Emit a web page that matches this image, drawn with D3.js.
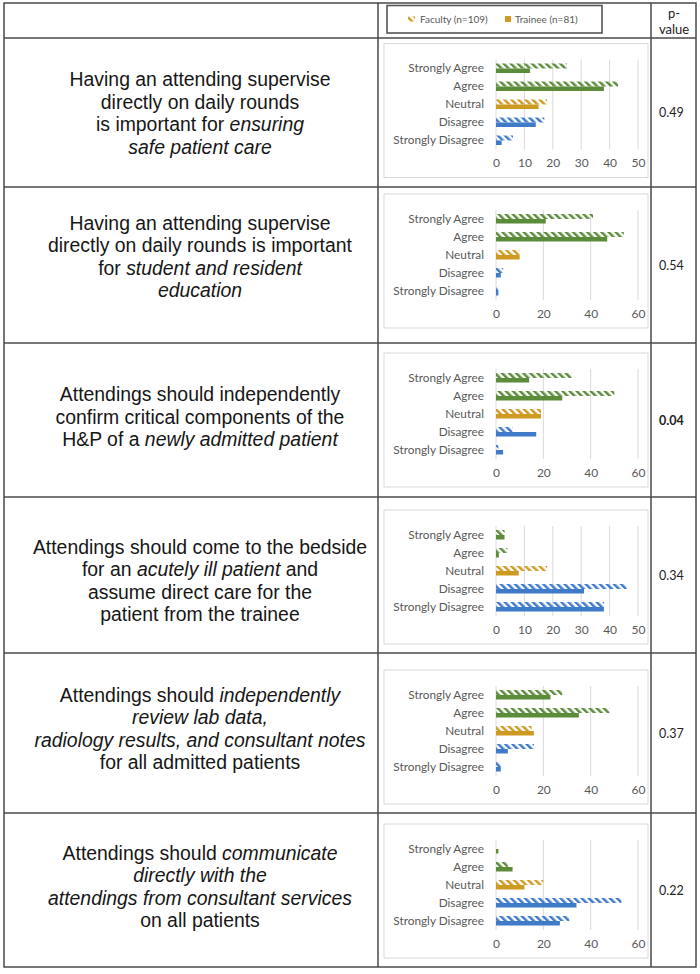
<!DOCTYPE html>
<html><head><meta charset="utf-8">
<script src="https://cdn.jsdelivr.net/npm/d3@7"></script>
<style>body{margin:0;background:#fff}</style>
</head><body>
<svg id="c" width="700" height="974"></svg>
<script>
// ---------- data ----------
const categories = ["Strongly Agree","Agree","Neutral","Disagree","Strongly Disagree"];
const seriesNames = ["Faculty (n=109)","Trainee (n=81)"];
const faculty = [
  [25,43,18,17,6],
  [41,54,10,3,1],
  [32,50,19,7,1],
  [3,4,18,46,38],
  [28,48,15,16,2],
  [0,5,20,53,31]
];
const trainee = [
  [12,38,15,14,2],
  [21,47,10,2,1],
  [14,28,19,17,3],
  [3,1,8,31,38],
  [23,35,16,5,2],
  [1,7,12,34,27]
];
const axisMax = [50,60,60,50,60,60];
const tickStep = [10,20,20,10,20,20];
const pValues = ["0.49","0.54","0.04","0.34","0.37","0.22"];
const significant = [false,false,true,false,false,false];
// statements: lines of [text, italic]
const statements = [
  [[["Having an attending supervise",0]],[["directly on daily rounds",0]],[["is important for ",0],["ensuring",1]],[["safe patient care",1]]],
  [[["Having an attending supervise",0]],[["directly on daily rounds is important",0]],[["for ",0],["student and resident",1]],[["education",1]]],
  [[["Attendings should independently",0]],[["confirm critical components of the",0]],[["H&P of a ",0],["newly admitted patient",1]]],
  [[["Attendings should come to the bedside",0]],[["for an ",0],["acutely ill patient",1],[" and",0]],[["assume direct care for the",0]],[["patient from the trainee",0]]],
  [[["Attendings should ",0],["independently",1]],[["review lab data,",1]],[["radiology results, and consultant notes",1]],[["for all admitted patients",0]]],
  [[["Attendings should ",0],["communicate",1]],[["directly with the",1]],[["attendings from consultant services",1]],[["on all patients",0]]]
];
const catColors = ["#5b8c3a","#5b8c3a","#cf9a22","#3f7bc8","#3f7bc8"];
const legendColor = "#cf9a22";

// ---------- layout ----------
const rowEdges = [38,187,343,497,653,813,967];
const textShift = [1,-8,-3,6,-4,-3];
const boxShift = [-2,-4,0,2,4,1];
const tableLeft = 4, col1 = 378, col2 = 651, tableRight = 696, tableTop = 3;
const svg = d3.select("#c");
const defs = svg.append("defs");
const uniqColors = Array.from(new Set(catColors.concat([legendColor])));
uniqColors.forEach((c,i)=>{
  const p = defs.append("pattern").attr("id","hatch"+i)
    .attr("patternUnits","userSpaceOnUse").attr("width",5).attr("height",5)
    .attr("patternTransform","rotate(-45)");
  p.append("rect").attr("x",0).attr("y",0).attr("width",2.5).attr("height",5).attr("fill",c);
});
const hatchId = c => "url(#hatch"+uniqColors.indexOf(c)+")";

const lineColor = "#4a4a4a";
// legend box
const leg = svg.append("g");
leg.append("rect").attr("x",387).attr("y",5.5).attr("width",215).attr("height",27.5)
  .attr("fill","#fff").attr("stroke","#555").attr("stroke-width",1.6);
leg.append("rect").attr("x",408).attr("y",16.5).attr("width",7).attr("height",5).attr("fill",hatchId(legendColor));
leg.append("text").attr("x",420).attr("y",22.5).text(seriesNames[0])
  .attr("font-family","Lato").attr("font-size",10).attr("fill","#595959");
leg.append("rect").attr("x",505).attr("y",16).attr("width",6).attr("height",6).attr("fill",legendColor);
leg.append("text").attr("x",515).attr("y",22.5).text(seriesNames[1])
  .attr("font-family","Lato").attr("font-size",10).attr("fill","#595959");

svg.append("text").attr("x",674).attr("y",18).attr("text-anchor","middle")
  .attr("font-family","Lato").attr("font-size",13).attr("fill","#222").text("p-");
svg.append("text").attr("x",674).attr("y",34).attr("text-anchor","middle")
  .attr("font-family","Lato").attr("font-size",13).attr("fill","#222").text("value");

// rows
const boxH = 134;
statements.forEach((lines,r)=>{
  const top = rowEdges[r], bot = rowEdges[r+1], mid = (top+bot)/2;
  // statement text
  const lh = 22.6;
  const firstY = mid - (lines.length-1)*lh/2 + 6.5 + textShift[r];
  const t = svg.append("text").attr("text-anchor","middle")
    .attr("font-family","Liberation Sans, Arial, sans-serif").attr("font-size",19.4).attr("fill","#161616");
  lines.forEach((segs,li)=>{
    const line = t.append("tspan").attr("x",200).attr("y",firstY+li*lh);
    segs.forEach(([txt,it])=>{
      line.append("tspan").text(txt).attr("font-style",it?"italic":"normal");
    });
  });
  // p-value
  svg.append("text").attr("x",659).attr("y",mid+4.5)
    .attr("font-family","Lato").attr("font-size",12.5).attr("fill","#222")
    .attr("font-weight",significant[r]?"bold":"normal").text(pValues[r]);

  // chart box
  const boxTop = mid - boxH/2 + boxShift[r];
  svg.append("rect").attr("x",384).attr("y",boxTop).attr("width",264).attr("height",boxH)
    .attr("fill","#fff").attr("stroke","#d9d9d9").attr("stroke-width",1);
  const plotTop = boxTop + 16, plotH = 90;
  const x = d3.scaleLinear().domain([0,axisMax[r]]).range([496,638]);
  const y = d3.scaleBand().domain(categories).range([plotTop,plotTop+plotH]);
  const ticks = d3.range(0,axisMax[r]+0.001,tickStep[r]);
  const cg = svg.append("g");
  // gridlines
  cg.selectAll("line.grid").data(ticks).join("line")
    .attr("x1",d=>x(d)).attr("x2",d=>x(d)).attr("y1",plotTop).attr("y2",plotTop+plotH)
    .attr("stroke","#d9d9d9").attr("stroke-width",1);
  // x axis tick labels
  const ax = d3.axisBottom(x).tickValues(ticks).tickSize(0).tickPadding(9);
  const axg = cg.append("g").attr("transform",`translate(0,${plotTop+plotH})`).call(ax);
  axg.select(".domain").remove();
  axg.selectAll("text").attr("font-family","Lato").attr("font-size",12).attr("fill","#595959");
  // y axis labels
  const ay = d3.axisLeft(y).tickSize(0).tickPadding(12);
  const ayg = cg.append("g").attr("transform","translate(496,0)").call(ay);
  ayg.select(".domain").remove();
  ayg.selectAll("text").attr("font-family","Lato").attr("font-size",11.8).attr("fill","#595959");
  const bc = d => y(d) + y.bandwidth()/2;
  // faculty (hatched) bars
  cg.selectAll("rect.fac").data(categories).join("rect")
    .attr("x",x(0)).attr("y",d=>bc(d)-5).attr("height",5)
    .attr("width",(d,i)=>x(faculty[r][i])-x(0))
    .attr("fill",(d,i)=>hatchId(catColors[i]));
  // trainee (solid) bars
  cg.selectAll("rect.tra").data(categories).join("rect")
    .attr("x",x(0)).attr("y",d=>bc(d)).attr("height",4.5)
    .attr("width",(d,i)=>x(trainee[r][i])-x(0))
    .attr("fill",(d,i)=>catColors[i]);
});

// table lines
const tl = svg.append("g").attr("stroke",lineColor).attr("stroke-width",1.5).attr("fill","none");
tl.append("rect").attr("x",tableLeft).attr("y",tableTop).attr("width",tableRight-tableLeft).attr("height",rowEdges[6]-tableTop);
rowEdges.slice(0,6).forEach(yv=>tl.append("line").attr("x1",tableLeft).attr("x2",tableRight).attr("y1",yv).attr("y2",yv));
tl.append("line").attr("x1",col1).attr("x2",col1).attr("y1",tableTop).attr("y2",rowEdges[6]);
tl.append("line").attr("x1",col2).attr("x2",col2).attr("y1",tableTop).attr("y2",rowEdges[6]);
</script>
</body></html>
